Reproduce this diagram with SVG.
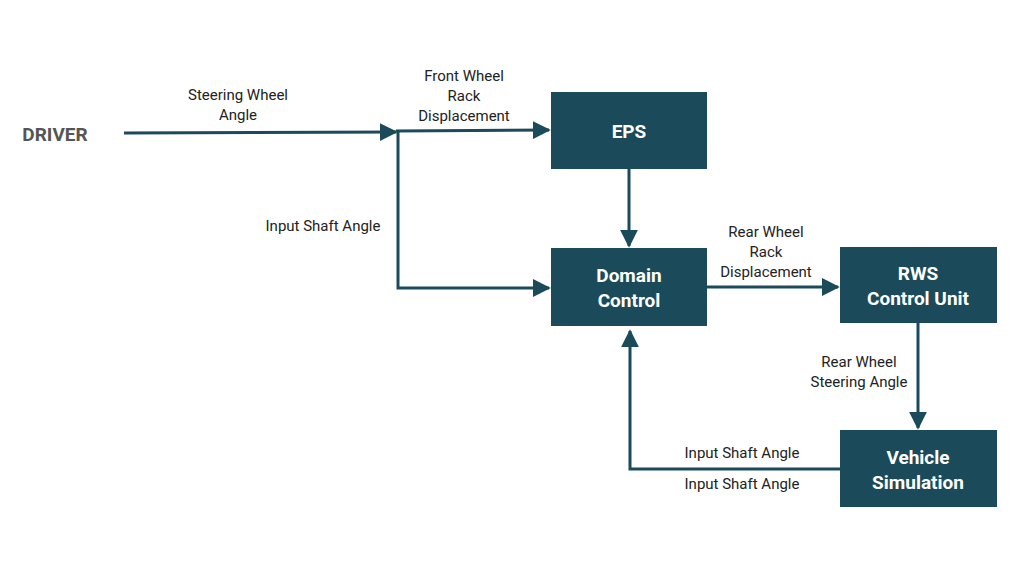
<svg xmlns="http://www.w3.org/2000/svg" width="1024" height="576" viewBox="0 0 1024 576">
<style>
.box{fill:#1b4b5a}
.bt{font-family:Roboto,"Liberation Sans",sans-serif;font-weight:bold;font-size:19px;fill:#fff;text-anchor:middle}
.lb{font-family:Roboto,"Liberation Sans",sans-serif;font-size:15px;fill:#222;text-anchor:middle}
.ln{stroke:#1b4b5a;stroke-width:3;fill:none}
</style>
<defs><marker id="a" viewBox="0 0 10 10" refX="9" refY="5" markerWidth="6" markerHeight="6" orient="auto" markerUnits="strokeWidth"><path d="M0 0L10 5L0 10z" fill="#1b4b5a"/></marker></defs>
<rect width="1024" height="576" fill="#fff"/>
<g id="driver"><text x="55" y="141" font-family="Roboto,'Liberation Sans',sans-serif" font-weight="bold" font-size="19" fill="#555" text-anchor="middle">DRIVER</text></g>
<g id="eps"><rect class="box" x="551" y="92" width="156" height="77"/><text class="bt" x="629" y="138">EPS</text></g>
<g id="domain"><rect class="box" x="551" y="248" width="156" height="78"/><text class="bt" x="629" y="282">Domain</text><text class="bt" x="629" y="307">Control</text></g>
<g id="rws"><rect class="box" x="840" y="247" width="157" height="76"/><text class="bt" x="918" y="280">RWS</text><text class="bt" x="918" y="305">Control Unit</text></g>
<g id="vehicle"><rect class="box" x="840" y="430" width="157" height="77"/><text class="bt" x="918" y="464">Vehicle</text><text class="bt" x="918" y="489">Simulation</text></g>
<g id="connectors">
<path class="ln" d="M124 133L396 132" marker-end="url(#a)"/>
<path class="ln" d="M396 131L549 130" marker-end="url(#a)"/>
<path class="ln" d="M398 132V288H549" marker-end="url(#a)"/>
<path class="ln" d="M629 169V246" marker-end="url(#a)"/>
<path class="ln" d="M707 287H838" marker-end="url(#a)"/>
<path class="ln" d="M918 323V428" marker-end="url(#a)"/>
<path class="ln" d="M840 469H630V331" marker-end="url(#a)"/>
</g>
<g id="labels">
<text class="lb" x="238" y="100">Steering Wheel</text><text class="lb" x="238" y="120">Angle</text>
<text class="lb" x="464" y="81">Front Wheel</text><text class="lb" x="464" y="101">Rack</text><text class="lb" x="464" y="121">Displacement</text>
<text class="lb" x="323" y="231">Input Shaft Angle</text>
<text class="lb" x="766" y="237">Rear Wheel</text><text class="lb" x="766" y="257">Rack</text><text class="lb" x="766" y="277">Displacement</text>
<text class="lb" x="859" y="367">Rear Wheel</text><text class="lb" x="859" y="387">Steering Angle</text>
<text class="lb" x="742" y="458">Input Shaft Angle</text>
<text class="lb" x="742" y="489">Input Shaft Angle</text>
</g>
</svg>
